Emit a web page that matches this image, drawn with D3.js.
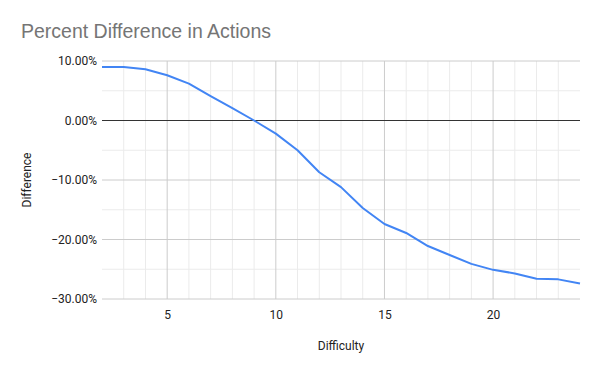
<!DOCTYPE html>
<html>
<head>
<meta charset="utf-8">
<script src="https://cdn.jsdelivr.net/npm/d3@7"></script>
<style>
  body { margin: 0; background: #fff; }
  text { font-family: Roboto, "Liberation Sans", Arial, sans-serif; }
</style>
</head>
<body>
<div id="chart"></div>
<script>
// data
const difficulty = [2, 3, 4, 5, 6, 7, 8, 9, 10, 11, 12, 13, 14, 15, 16, 17, 18, 19, 20, 21, 22, 23, 24];
const difference = [9.0, 9.0, 8.6, 7.6, 6.2, 4.1, 2.1, 0.0, -2.2, -5.0, -8.7, -11.2, -14.7, -17.4, -18.9, -21.1, -22.6, -24.1, -25.1, -25.7, -26.6, -26.7, -27.4];
const xTicks = [5, 10, 15, 20];
const yTicks = [10, 0, -10, -20, -30];

const width = 600, height = 371;
const plotLeft = 102, plotRight = 580, plotTop = 61, plotBottom = 299;

const svg = d3.select("#chart").append("svg")
  .attr("width", width)
  .attr("height", height);

const x = d3.scaleLinear().domain([2, 24]).range([plotLeft, plotRight]);
const y = d3.scaleLinear().domain([-30, 10]).range([plotBottom, plotTop]);

// minor grid
const grid = svg.append("g");
grid.selectAll(".vminor")
  .data(d3.range(3, 24).filter(d => d % 5 !== 0))
  .join("line")
  .attr("x1", d => x(d)).attr("x2", d => x(d))
  .attr("y1", plotTop).attr("y2", plotBottom)
  .attr("stroke", "#ebebeb");
grid.selectAll(".hminor")
  .data([5, -5, -15, -25])
  .join("line")
  .attr("x1", plotLeft).attr("x2", plotRight)
  .attr("y1", d => y(d)).attr("y2", d => y(d))
  .attr("stroke", "#ebebeb");
// major grid
grid.selectAll(".vmajor")
  .data(xTicks)
  .join("line")
  .attr("x1", d => x(d)).attr("x2", d => x(d))
  .attr("y1", plotTop).attr("y2", plotBottom)
  .attr("stroke", "#cccccc");
grid.selectAll(".hmajor")
  .data(yTicks.filter(d => d !== 0))
  .join("line")
  .attr("x1", plotLeft).attr("x2", plotRight)
  .attr("y1", d => y(d)).attr("y2", d => y(d))
  .attr("stroke", "#cccccc");
// zero line
svg.append("line")
  .attr("x1", plotLeft).attr("x2", plotRight)
  .attr("y1", y(0)).attr("y2", y(0))
  .attr("stroke", "#333333");

// axes (labels only)
const xAxis = svg.append("g")
  .attr("transform", `translate(0,${plotBottom})`)
  .call(d3.axisBottom(x).tickValues(xTicks).tickSize(0).tickPadding(11));
xAxis.select(".domain").remove();
xAxis.selectAll("text").attr("font-size", 12).attr("fill", "#222");

const yAxis = svg.append("g")
  .attr("transform", `translate(${plotLeft},0)`)
  .call(d3.axisLeft(y).tickValues(yTicks).tickSize(0).tickPadding(5)
    .tickFormat(d => d3.format(".2f")(d) + "%"));
yAxis.select(".domain").remove();
yAxis.selectAll("text").attr("font-size", 12).attr("fill", "#222");

// line
const line = d3.line()
  .x((d, i) => x(difficulty[i]))
  .y(d => y(d));
svg.append("path")
  .datum(difference)
  .attr("fill", "none")
  .attr("stroke", "#4285f4")
  .attr("stroke-width", 2)
  .attr("stroke-linejoin", "round")
  .attr("d", line);

// title and axis titles
svg.append("text")
  .attr("x", 21).attr("y", 38)
  .attr("font-size", 19.5)
  .style("font-family", "'Liberation Sans', Arial, sans-serif")
  .attr("fill", "#757575")
  .text("Percent Difference in Actions");

svg.append("text")
  .attr("x", (plotLeft + plotRight) / 2).attr("y", 350)
  .attr("text-anchor", "middle")
  .attr("font-size", 12)
  .attr("fill", "#222")
  .text("Difficulty");

svg.append("text")
  .attr("transform", `translate(31,${(plotTop + plotBottom) / 2}) rotate(-90)`)
  .attr("text-anchor", "middle")
  .attr("font-size", 12)
  .attr("fill", "#222")
  .text("Difference");
</script>
</body>
</html>
